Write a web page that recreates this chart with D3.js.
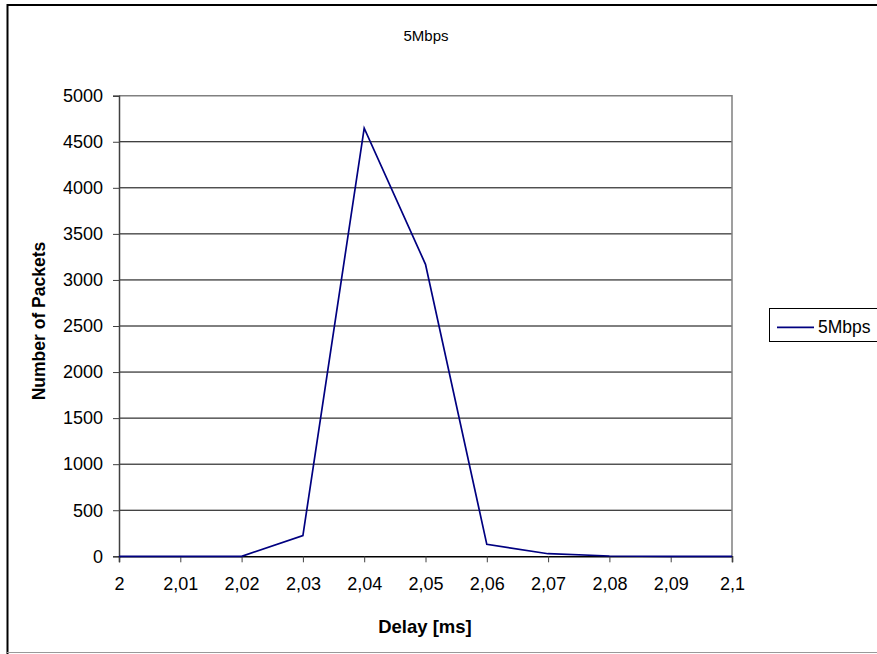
<!DOCTYPE html>
<html><head><meta charset="utf-8">
<script src="https://cdn.jsdelivr.net/npm/d3@7"></script>
<style>body{margin:0;background:#fff}svg{display:block;font-family:"Liberation Sans",Arial,sans-serif}</style>
</head><body>
<svg id="c" width="877" height="654"></svg>
<script>
const delays = [2.00, 2.01, 2.02, 2.03, 2.04, 2.05, 2.06, 2.07, 2.08, 2.09, 2.10];
const packets = [0, 0, 0, 224, 4647, 3170, 130, 28, 3, 0, 0];
const xTickLabels = ["2","2,01","2,02","2,03","2,04","2,05","2,06","2,07","2,08","2,09","2,1"];
const yTicks = [0,500,1000,1500,2000,2500,3000,3500,4000,4500,5000];
const seriesName = "5Mbps";
const chartTitle = "5Mbps";
const xTitle = "Delay [ms]";
const yTitle = "Number of Packets";

const svg = d3.select("#c");
const L = 119, R = 732, T = 95.7, B = 556.3;
const x = d3.scaleLinear().domain([2.0, 2.1]).range([L, R]);
const y = d3.scaleLinear().domain([0, 5000]).range([B, T]);
const FF = "Liberation Sans, Arial, sans-serif";

// outer border
svg.append("path").attr("d","M7.5,660V5H900").attr("fill","none").attr("stroke","#000").attr("stroke-width",2);
svg.append("line").attr("x1",7).attr("x2",900).attr("y1",652.5).attr("y2",652.5)
  .attr("stroke","#999").attr("stroke-width",1.2);

// title
svg.append("text").attr("x",426).attr("y",41).attr("text-anchor","middle")
  .attr("font-size",15).text(chartTitle);

// gridlines
svg.append("g").selectAll("line").data(yTicks.filter(d=>d>0 && d<5000)).join("line")
  .attr("x1",L).attr("x2",R).attr("y1",d=>y(d)).attr("y2",d=>y(d))
  .attr("stroke","#000").attr("stroke-width",1);

// plot border (top, right)
svg.append("path").attr("d",`M${L},${T}H${R}V${B}`)
  .attr("fill","none").attr("stroke","#808080").attr("stroke-width",1.5);

// y axis
const yAxis = d3.axisLeft(y).tickValues(yTicks).tickSize(6).tickPadding(10).tickFormat(d3.format("d"));
const gy = svg.append("g").attr("transform",`translate(${L},0)`).call(yAxis);
gy.select(".domain").attr("stroke","#404040").attr("stroke-width",1.5);
gy.selectAll(".tick line").attr("stroke","#404040");
gy.selectAll("text").attr("font-size",18).attr("fill","#000").attr("font-family",FF);

// x axis
const xAxis = d3.axisBottom(x).tickValues(delays).tickSize(6).tickPadding(15)
  .tickFormat((d,i)=>xTickLabels[i]);
const gx = svg.append("g").attr("transform",`translate(0,${B})`).call(xAxis);
gx.select(".domain").attr("stroke","#000").attr("stroke-width",1.5);
gx.selectAll(".tick line").attr("stroke","#404040");
gx.selectAll("text").attr("font-size",18).attr("fill","#000").attr("font-family",FF);

// line
const line = d3.line().x((d,i)=>x(delays[i])).y(d=>y(d));
svg.append("path").datum(packets).attr("d",line).attr("fill","none")
  .attr("stroke","#000080").attr("stroke-width",1.7);

// axis titles
svg.append("text").attr("x",425).attr("y",633).attr("text-anchor","middle")
  .attr("font-size",18.5).attr("font-weight","bold").text(xTitle);
svg.append("text").attr("transform","translate(45,321) rotate(-90)").attr("text-anchor","middle")
  .attr("font-size",17.5).attr("font-weight","bold").text(yTitle);

// legend
const lg = svg.append("g");
lg.append("rect").attr("x",769.5).attr("y",308.5).attr("width",120).attr("height",33)
  .attr("fill","#fff").attr("stroke","#000").attr("stroke-width",1);
lg.append("line").attr("x1",777).attr("x2",814).attr("y1",327.3).attr("y2",327.3)
  .attr("stroke","#000080").attr("stroke-width",1.7);
lg.append("text").attr("x",818).attr("y",333).attr("font-size",17.5).text(seriesName);
</script>
</body></html>
